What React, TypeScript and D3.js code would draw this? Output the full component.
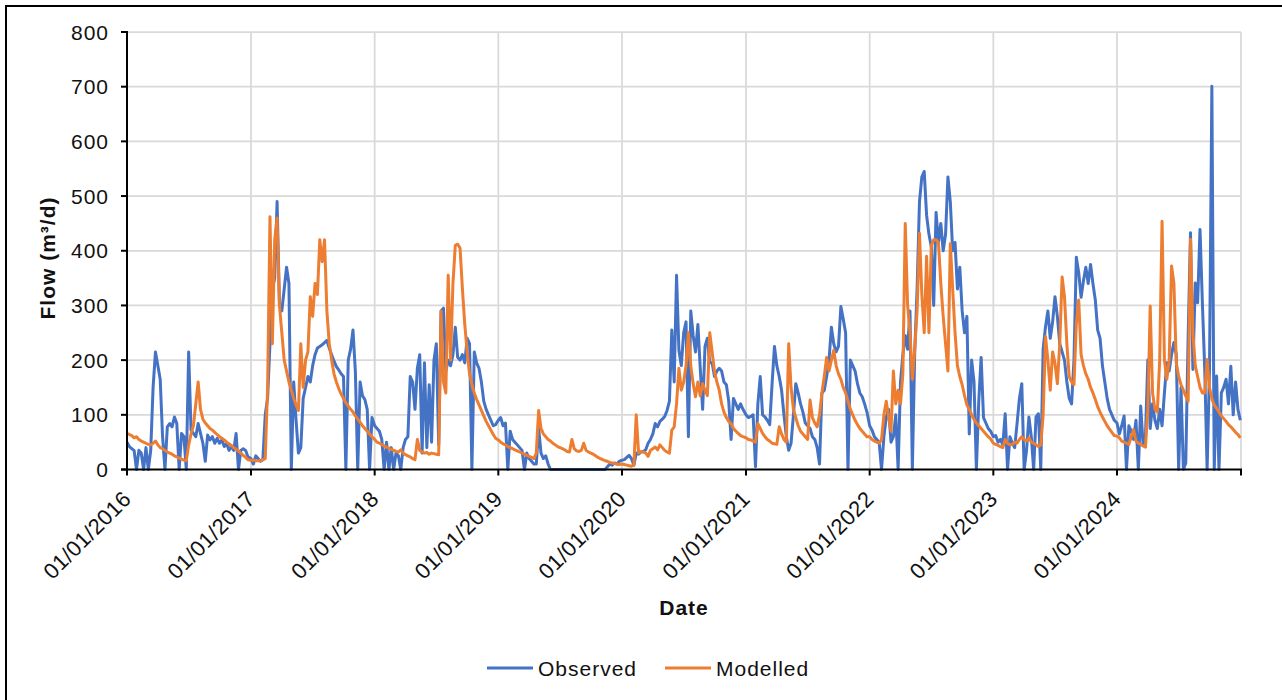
import React, { useEffect, useRef } from 'react';
import * as d3 from 'd3';

// weekly readings, one array per calendar year (value k is at 1 Jan + 7k days)
const years = [2016, 2017, 2018, 2019, 2020, 2021, 2022, 2023, 2024];

const observed2016 = [50, 42, 38, 35, 0, 35, 30, 0, 40, 0, 35, 150, 215, 190, 165, 60, 0, 78, 84, 78, 96, 84, 0, 66, 60, 0, 215, 72, 66, 60, 84, 66, 48, 15, 63, 54, 60, 48, 57, 48, 54, 42, 48, 35, 42, 35, 66, 0, 35, 38, 35, 23];
const observed2017 = [20, 10, 25, 20, 15, 18, 100, 130, 230, 330, 350, 490, 300, 290, 330, 370, 340, 0, 160, 90, 30, 40, 130, 150, 170, 160, 190, 210, 222, 225, 228, 232, 236, 222, 210, 198, 188, 182, 175, 170, 0, 200, 220, 255, 180, 0, 160, 135, 128, 110, 0, 95];
const observed2018 = [80, 75, 70, 55, 0, 50, 0, 40, 0, 30, 25, 0, 40, 55, 60, 170, 160, 110, 185, 210, 30, 195, 40, 155, 50, 200, 230, 45, 290, 295, 180, 200, 190, 210, 260, 205, 200, 210, 195, 240, 230, 0, 215, 195, 185, 160, 125, 110, 100, 90, 80, 82];
const observed2019 = [90, 95, 80, 85, 0, 70, 55, 50, 45, 40, 35, 0, 30, 20, 15, 10, 10, 75, 30, 20, 25, 10, 0, 0, 0, 0, 0, 0, 0, 0, 0, 0, 0, 0, 0, 0, 0, 0, 0, 0, 0, 0, 0, 0, 0, 0, 5, 10, 8, 12, 10, 15];
const observed2020 = [17, 18, 22, 26, 20, 8, 30, 28, 32, 33, 36, 48, 55, 65, 84, 78, 88, 92, 97, 108, 125, 255, 160, 355, 218, 190, 250, 270, 60, 290, 245, 215, 265, 185, 110, 225, 240, 195, 195, 170, 180, 185, 180, 160, 155, 125, 55, 130, 120, 110, 120, 110];
const observed2021 = [100, 95, 97, 100, 5, 120, 170, 100, 96, 90, 82, 157, 225, 190, 170, 145, 100, 60, 35, 48, 100, 157, 140, 120, 105, 85, 80, 75, 60, 55, 40, 10, 140, 145, 170, 200, 260, 230, 215, 225, 298, 275, 250, 0, 200, 190, 180, 157, 140, 133, 120, 105];
const observed2022 = [80, 72, 60, 55, 50, 0, 60, 96, 110, 50, 60, 100, 0, 160, 210, 245, 220, 290, 0, 215, 330, 490, 535, 545, 465, 430, 407, 300, 470, 415, 450, 400, 430, 535, 490, 400, 415, 330, 370, 290, 250, 280, 65, 200, 160, 0, 125, 205, 95, 85, 75, 70];
const observed2023 = [60, 62, 50, 55, 45, 102, 0, 60, 48, 40, 84, 130, 157, 0, 35, 96, 60, 0, 96, 102, 0, 220, 261, 290, 240, 270, 316, 280, 230, 215, 200, 160, 130, 120, 200, 388, 360, 315, 345, 370, 340, 375, 340, 310, 255, 240, 190, 160, 130, 110, 100, 90];
const observed2024 = [85, 65, 80, 98, 0, 80, 70, 55, 90, 0, 116, 45, 60, 200, 75, 120, 90, 75, 110, 80, 140, 195, 180, 210, 232, 210, 0, 150, 0, 12, 244, 433, 183, 341, 305, 439, 305, 183, 0, 183, 701, 0, 171, 0, 140, 150, 165, 120, 189, 100, 160, 110, 90];

const modelled2016 = [66, 64, 62, 58, 60, 55, 52, 50, 48, 46, 45, 48, 52, 45, 40, 38, 35, 32, 30, 28, 25, 23, 21, 19, 17, 16, 45, 65, 80, 120, 160, 110, 92, 85, 80, 75, 72, 68, 64, 60, 57, 54, 50, 47, 44, 40, 37, 34, 30, 26, 22, 18];
const modelled2017 = [17, 17, 16, 16, 16, 18, 20, 150, 462, 230, 420, 460, 300, 250, 200, 180, 160, 145, 130, 118, 108, 230, 150, 200, 215, 316, 280, 340, 320, 420, 380, 420, 290, 230, 200, 175, 160, 148, 138, 130, 122, 116, 110, 105, 98, 92, 86, 80, 75, 70, 65, 60];
const modelled2018 = [55, 50, 48, 46, 43, 41, 39, 37, 35, 33, 32, 36, 30, 27, 25, 23, 20, 18, 55, 35, 32, 30, 31, 28, 30, 29, 28, 27, 290, 160, 140, 355, 200, 340, 410, 412, 405, 330, 265, 215, 175, 155, 140, 128, 118, 108, 98, 88, 80, 72, 64, 57];
const modelled2019 = [54, 50, 47, 45, 42, 40, 38, 36, 34, 32, 30, 28, 26, 24, 22, 20, 30, 108, 75, 65, 60, 55, 52, 48, 45, 42, 40, 38, 36, 33, 32, 55, 38, 34, 33, 35, 48, 35, 32, 30, 28, 25, 22, 20, 18, 16, 15, 13, 12, 11, 10, 9];
const modelled2020 = [10, 9, 8, 7, 6, 8, 100, 30, 33, 32, 30, 24, 35, 38, 41, 36, 45, 40, 35, 32, 30, 72, 78, 120, 185, 145, 160, 190, 250, 190, 157, 133, 160, 135, 157, 145, 135, 250, 215, 180, 160, 145, 120, 105, 95, 88, 84, 75, 70, 66, 62, 60];
const modelled2021 = [58, 55, 54, 52, 50, 84, 75, 66, 60, 55, 52, 48, 47, 46, 78, 65, 55, 50, 230, 150, 110, 95, 80, 70, 65, 60, 55, 127, 95, 85, 78, 100, 140, 170, 205, 180, 200, 218, 190, 175, 165, 150, 140, 125, 110, 100, 90, 82, 75, 70, 65, 60];
const modelled2022 = [60, 55, 52, 50, 48, 55, 100, 125, 95, 70, 180, 120, 145, 120, 175, 450, 300, 250, 165, 220, 290, 432, 320, 250, 390, 250, 410, 420, 420, 415, 340, 280, 230, 180, 413, 330, 250, 190, 170, 155, 135, 118, 110, 100, 92, 85, 80, 75, 70, 65, 60, 56];
const modelled2023 = [48, 46, 44, 42, 40, 55, 48, 45, 46, 50, 48, 55, 60, 55, 52, 58, 50, 48, 45, 42, 45, 100, 243, 200, 145, 215, 194, 157, 230, 352, 316, 230, 170, 160, 155, 267, 310, 210, 190, 175, 165, 150, 140, 128, 115, 105, 96, 88, 80, 74, 68, 62];
const modelled2024 = [61, 58, 52, 50, 48, 46, 60, 73, 52, 48, 46, 43, 41, 110, 299, 140, 110, 105, 200, 454, 200, 165, 200, 372, 340, 195, 170, 155, 145, 134, 125, 421, 250, 190, 170, 150, 140, 140, 201, 150, 130, 118, 112, 105, 98, 93, 88, 82, 78, 73, 68, 64, 58];

const observedByYear = [observed2016, observed2017, observed2018, observed2019, observed2020, observed2021, observed2022, observed2023, observed2024];
const modelledByYear = [modelled2016, modelled2017, modelled2018, modelled2019, modelled2020, modelled2021, modelled2022, modelled2023, modelled2024];

const yTicks = [0, 100, 200, 300, 400, 500, 600, 700, 800];
const xTickYears = [2016, 2017, 2018, 2019, 2020, 2021, 2022, 2023, 2024, 2025];
const xLabelYears = [2016, 2017, 2018, 2019, 2020, 2021, 2022, 2023, 2024];

interface Point { date: Date; value: number }

function toSeries(byYear: number[][]): Point[] {
  const pts: Point[] = [];
  byYear.forEach((vals, i) => {
    vals.forEach((v, k) => {
      pts.push({ date: new Date(Date.UTC(years[i], 0, 1 + 7 * k)), value: v });
    });
  });
  return pts;
}

const FONT = 'Arial, "Liberation Sans", sans-serif';

export default function App() {
  const svgRef = useRef<SVGSVGElement>(null);

  useEffect(() => {
    if (!svgRef.current) return;
    const svg = d3.select(svgRef.current);
    svg.selectAll('*').remove();

    const left = 127, right = 1241, top = 32, bottom = 469.5;

    const x = d3.scaleUtc()
      .domain([new Date(Date.UTC(2016, 0, 1)), new Date(Date.UTC(2025, 0, 1))])
      .range([left, right]);
    const y = d3.scaleLinear().domain([0, 800]).range([bottom, top]);

    svg.append('rect')
      .attr('x', 0).attr('y', 0).attr('width', 1282).attr('height', 700)
      .attr('fill', '#fff');

    // outer frame (right and bottom edges fall outside the picture)
    svg.append('rect')
      .attr('x', 6).attr('y', 6).attr('width', 1400).attr('height', 800)
      .attr('fill', 'none').attr('stroke', '#000').attr('stroke-width', 2);

    // grid
    const grid = svg.append('g').attr('stroke', '#d9d9d9').attr('stroke-width', 1.75);
    yTicks.filter(t => t > 0).forEach(t => {
      grid.append('line')
        .attr('x1', left).attr('x2', right)
        .attr('y1', y(t)).attr('y2', y(t));
    });
    xTickYears.slice(1).forEach(yr => {
      const xx = x(new Date(Date.UTC(yr, 0, 1)));
      grid.append('line')
        .attr('x1', xx).attr('x2', xx)
        .attr('y1', top).attr('y2', bottom);
    });

    // series
    const line = d3.line<Point>()
      .x(d => x(d.date))
      .y(d => y(d.value));

    svg.append('path')
      .datum(toSeries(observedByYear))
      .attr('fill', 'none')
      .attr('stroke', '#4472c4')
      .attr('stroke-width', 3)
      .attr('stroke-linejoin', 'round')
      .attr('d', line);

    svg.append('path')
      .datum(toSeries(modelledByYear))
      .attr('fill', 'none')
      .attr('stroke', '#ed7d31')
      .attr('stroke-width', 3)
      .attr('stroke-linejoin', 'round')
      .attr('d', line);

    // axes
    const axes = svg.append('g').attr('stroke', '#000').attr('stroke-width', 2);
    axes.append('line').attr('x1', left).attr('x2', left).attr('y1', top - 1).attr('y2', bottom);
    axes.append('line').attr('x1', left - 6).attr('x2', right + 1).attr('y1', bottom).attr('y2', bottom);
    yTicks.forEach(t => {
      axes.append('line')
        .attr('x1', left - 6).attr('x2', left)
        .attr('y1', y(t)).attr('y2', y(t));
    });
    xTickYears.forEach(yr => {
      const xx = x(new Date(Date.UTC(yr, 0, 1)));
      axes.append('line')
        .attr('x1', xx).attr('x2', xx)
        .attr('y1', bottom).attr('y2', bottom + 6);
    });

    // y tick labels
    svg.append('g')
      .selectAll('text')
      .data(yTicks)
      .enter().append('text')
      .attr('x', 109)
      .attr('y', d => y(d))
      .attr('dy', '0.36em')
      .attr('text-anchor', 'end')
      .style('font-family', FONT)
      .style('font-size', '21px')
      .style('letter-spacing', '1px')
      .attr('fill', '#111')
      .text(d => String(d));

    // x tick labels
    svg.append('g')
      .selectAll('text')
      .data(xLabelYears)
      .enter().append('text')
      .attr('transform', d => `translate(${x(new Date(Date.UTC(d, 0, 1)))},495) rotate(-45)`)
      .attr('dy', '0.35em')
      .attr('text-anchor', 'end')
      .style('font-family', FONT)
      .style('font-size', '22px')
      .style('letter-spacing', '0.3px')
      .attr('fill', '#111')
      .text(d => `01/01/${d}`);

    // axis titles
    svg.append('text')
      .attr('x', (left + right) / 2)
      .attr('y', 615)
      .attr('text-anchor', 'middle')
      .style('font-family', FONT)
      .style('font-size', '21px')
      .style('font-weight', 'bold')
      .style('letter-spacing', '1px')
      .attr('fill', '#111')
      .text('Date');

    svg.append('text')
      .attr('transform', `translate(55,258) rotate(-90)`)
      .attr('text-anchor', 'middle')
      .style('font-family', FONT)
      .style('font-size', '21px')
      .style('font-weight', 'bold')
      .style('letter-spacing', '1px')
      .attr('fill', '#111')
      .text('Flow (m³/d)');

    // legend
    const legendItems = [
      { label: 'Observed', color: '#4472c4', x0: 487 },
      { label: 'Modelled', color: '#ed7d31', x0: 665 },
    ];
    const legend = svg.append('g');
    legendItems.forEach(item => {
      legend.append('line')
        .attr('x1', item.x0).attr('x2', item.x0 + 46)
        .attr('y1', 668).attr('y2', 668)
        .attr('stroke', item.color)
        .attr('stroke-width', 3);
      legend.append('text')
        .attr('x', item.x0 + 51)
        .attr('y', 676)
        .style('font-family', FONT)
        .style('font-size', '21px')
        .style('letter-spacing', '1px')
        .attr('fill', '#111')
        .text(item.label);
    });
  }, []);

  return (
    <svg
      ref={svgRef}
      width={1282}
      height={700}
      style={{ position: 'absolute', left: 0, top: 0, display: 'block' }}
    />
  );
}
